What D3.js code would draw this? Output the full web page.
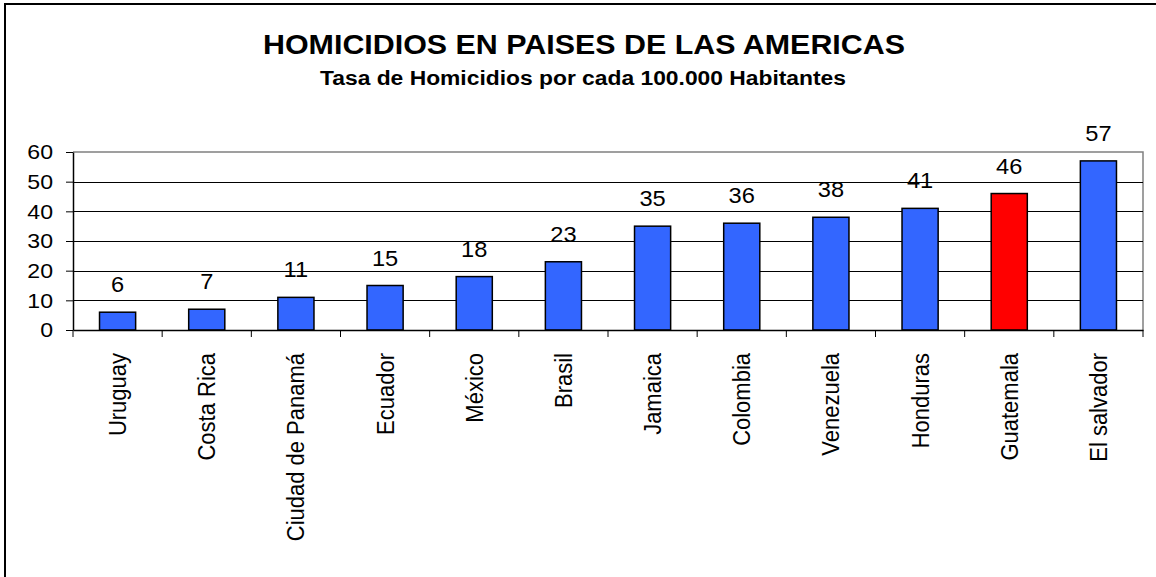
<!DOCTYPE html>
<html>
<head>
<meta charset="utf-8">
<script src="https://cdn.jsdelivr.net/npm/d3@7"></script>
<style>
  html, body { margin: 0; padding: 0; background: #fff; }
  svg { display: block; }
  text { font-family: "Liberation Sans", Arial, sans-serif; }
</style>
</head>
<body>
<svg id="chart" width="1156" height="577"></svg>
<script>
const countries = ["Uruguay", "Costa Rica", "Ciudad de Panamá", "Ecuador", "México", "Brasil",
                   "Jamaica", "Colombia", "Venezuela", "Honduras", "Guatemala", "El salvador"];
const rates = [6, 7, 11, 15, 18, 23, 35, 36, 38, 41, 46, 57];
const highlighted = ["Guatemala"];
const yTicks = [0, 10, 20, 30, 40, 50, 60];
const titleText = "HOMICIDIOS EN PAISES DE LAS AMERICAS";
const subtitleText = "Tasa de Homicidios por cada 100.000 Habitantes";

const svg = d3.select("#chart");
const W = 1156, H = 577;
const plot = { left: 73, right: 1143, top: 152, bottom: 330 };
const stretchX = 1.1;

function stretch(sel) {
  sel.each(function () {
    const len = this.getComputedTextLength();
    d3.select(this).attr("textLength", len * stretchX).attr("lengthAdjust", "spacingAndGlyphs");
  });
}

// outer frame
svg.append("rect")
  .attr("x", 5).attr("y", 4).attr("width", W + 10).attr("height", H + 10)
  .attr("fill", "#fff").attr("stroke", "#000").attr("stroke-width", 2);

// titles
svg.append("text").attr("x", 584).attr("y", 54)
  .attr("text-anchor", "middle").attr("font-weight", "bold").attr("font-size", 28)
  .attr("textLength", 642).attr("lengthAdjust", "spacingAndGlyphs")
  .text(titleText);
svg.append("text").attr("x", 583).attr("y", 85)
  .attr("text-anchor", "middle").attr("font-weight", "bold").attr("font-size", 19.5)
  .attr("textLength", 526).attr("lengthAdjust", "spacingAndGlyphs")
  .text(subtitleText);

const x = d3.scaleBand().domain(countries).range([plot.left, plot.right]).padding(0);
const y = d3.scaleLinear().domain([0, 60]).range([plot.bottom, plot.top]);

// plot border (top/right gray)
svg.append("path")
  .attr("d", `M${plot.left},${plot.top}H${plot.right}V${plot.bottom}`)
  .attr("fill", "none").attr("stroke", "#808080").attr("stroke-width", 1.5);

// gridlines
svg.append("g").selectAll("line").data(yTicks.filter(d => d > 0 && d < 60)).join("line")
  .attr("x1", plot.left).attr("x2", plot.right)
  .attr("y1", d => Math.round(y(d)) + 0.5).attr("y2", d => Math.round(y(d)) + 0.5)
  .attr("stroke", "#000").attr("stroke-width", 1);

// y axis
const yAxis = svg.append("g").attr("transform", `translate(${plot.left},0)`)
  .call(d3.axisLeft(y).tickValues(yTicks).tickSize(7).tickPadding(13).tickSizeOuter(0));
yAxis.select(".domain").attr("stroke", "#000").attr("stroke-width", 1.5);
yAxis.selectAll(".tick line").attr("stroke", "#000");
yAxis.selectAll("text").attr("font-size", 21).attr("fill", "#000")
  .attr("font-family", "Liberation Sans, Arial, sans-serif")
  .call(stretch);

// bars
const barW = x.bandwidth() * 0.405;
svg.append("g").selectAll("rect").data(countries).join("rect")
  .attr("x", d => x(d) + x.bandwidth() / 2 - barW / 2)
  .attr("y", (d, i) => y(rates[i]))
  .attr("width", barW)
  .attr("height", (d, i) => y(0) - y(rates[i]))
  .attr("fill", d => highlighted.includes(d) ? "#FF0000" : "#3366FF")
  .attr("stroke", "#000").attr("stroke-width", 1.5);

// value labels
svg.append("g").selectAll("text").data(countries).join("text")
  .attr("x", d => x(d) + x.bandwidth() / 2)
  .attr("y", (d, i) => y(rates[i]) - 20)
  .attr("text-anchor", "middle").attr("font-size", 21.5)
  .text((d, i) => rates[i])
  .call(stretch);

// x axis
const xAxis = svg.append("g").attr("transform", `translate(0,${plot.bottom})`)
  .call(d3.axisBottom(x).tickSize(0).tickSizeOuter(0));
xAxis.select(".domain").attr("stroke", "#000").attr("stroke-width", 1.5);
xAxis.selectAll(".tick text")
  .attr("font-size", 22).attr("fill", "#000")
  .attr("font-family", "Liberation Sans, Arial, sans-serif")
  .attr("text-anchor", "end")
  .attr("transform", `rotate(-90) scale(1,${stretchX})`)
  .attr("x", -23).attr("y", 0).attr("dy", "0.35em");

// category separator ticks
const sepX = countries.map(c => x(c)).concat([plot.right]);
svg.append("g").selectAll("line").data(sepX).join("line")
  .attr("x1", d => d).attr("x2", d => d)
  .attr("y1", plot.bottom).attr("y2", plot.bottom + 7)
  .attr("stroke", "#000").attr("stroke-width", 1);
</script>
</body>
</html>
